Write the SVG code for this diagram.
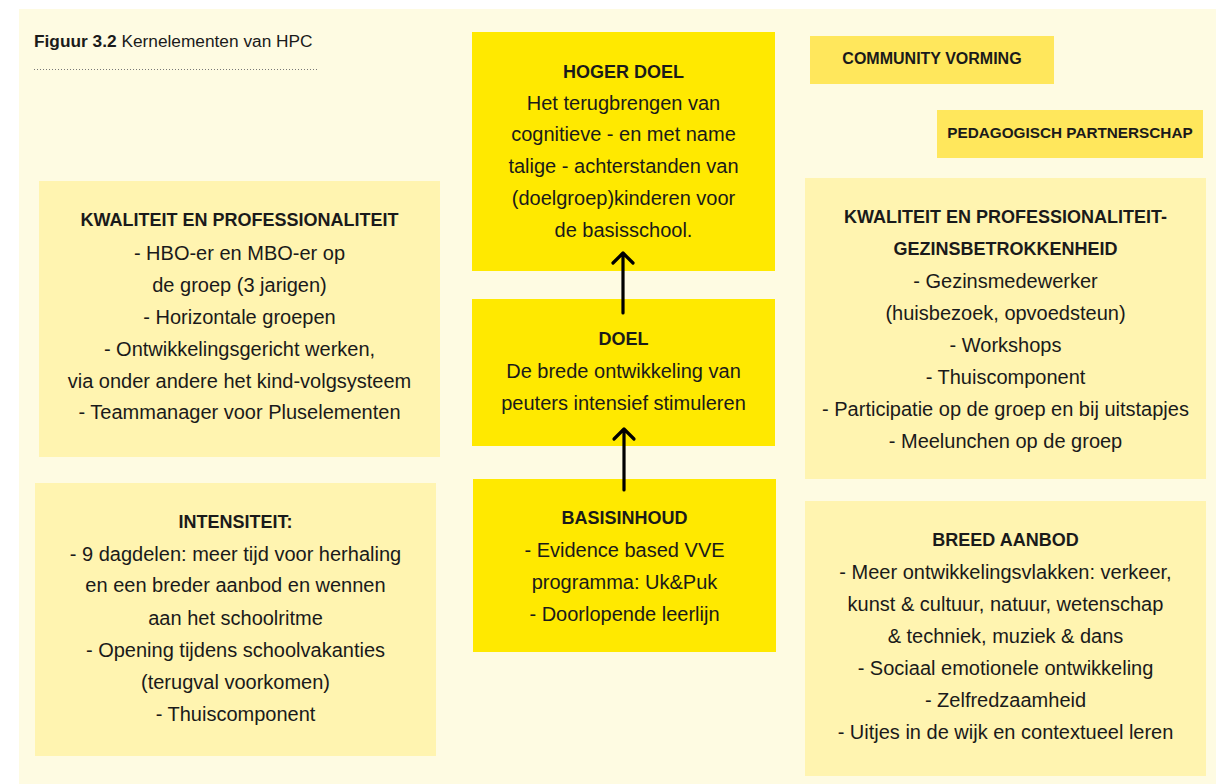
<svg xmlns="http://www.w3.org/2000/svg" width="1216" height="784" viewBox="0 0 1216 784">
<defs>
<style>
.bg{fill:#FEFBE2}
.main{fill:#FFE900}
.light{fill:#FFF4B0}
.tag{fill:#FFE75C}
text{font-family:"Liberation Sans",Arial,sans-serif;fill:#1a1a1a;text-anchor:middle}
.t{font-weight:bold;font-size:18px}
.b{font-size:20px}
.s{font-weight:bold;font-size:16px}
.arrow{stroke:#000;stroke-width:3.2;fill:none;stroke-linecap:round;stroke-linejoin:round}
</style>
</defs>
<rect width="1216" height="784" fill="#ffffff"/>
<rect class="bg" x="19" y="9" width="1197" height="775"/>
<g id="caption">
<text x="34" y="47" style="text-anchor:start;font-size:17.3px"><tspan font-weight="bold">Figuur 3.2</tspan> Kernelementen van HPC</text>
<line x1="34" y1="69.5" x2="317" y2="69.5" stroke="#777" stroke-width="1" stroke-dasharray="1 2"/>
</g>
<g id="hoger-doel">
<rect class="main" x="472" y="32" width="303" height="239"/>
<text class="t" x="623.5" y="78">HOGER DOEL</text>
<text class="b" x="623.5" y="110">Het terugbrengen van</text>
<text class="b" x="623.5" y="141">cognitieve - en met name</text>
<text class="b" x="623.5" y="173">talige - achterstanden van</text>
<text class="b" x="623.5" y="205">(doelgroep)kinderen voor</text>
<text class="b" x="623.5" y="237">de basisschool.</text>
</g>
<g id="doel">
<rect class="main" x="472" y="299" width="303" height="147"/>
<text class="t" x="623.5" y="345">DOEL</text>
<text class="b" x="623.5" y="378">De brede ontwikkeling van</text>
<text class="b" x="623.5" y="410">peuters intensief stimuleren</text>
</g>
<g id="basisinhoud">
<rect class="main" x="473" y="479" width="303" height="173"/>
<text class="t" x="624.5" y="524">BASISINHOUD</text>
<text class="b" x="624.5" y="557">- Evidence based VVE</text>
<text class="b" x="624.5" y="589">programma: Uk&amp;Puk</text>
<text class="b" x="624.5" y="621">- Doorlopende leerlijn</text>
</g>
<g id="community-vorming">
<rect class="tag" x="810" y="36" width="244" height="48"/>
<text class="s" x="932" y="64">COMMUNITY VORMING</text>
</g>
<g id="pedagogisch-partnerschap">
<rect class="tag" x="937" y="110" width="266" height="48"/>
<text class="s" x="1070" y="138" style="font-size:15.3px">PEDAGOGISCH PARTNERSCHAP</text>
</g>
<g id="kwaliteit-links">
<rect class="light" x="39" y="181" width="401" height="276"/>
<text class="t" x="239.5" y="226">KWALITEIT EN PROFESSIONALITEIT</text>
<text class="b" x="239.5" y="260">- HBO-er en MBO-er op</text>
<text class="b" x="239.5" y="292">de groep (3 jarigen)</text>
<text class="b" x="239.5" y="324">- Horizontale groepen</text>
<text class="b" x="239.5" y="356">- Ontwikkelingsgericht werken,</text>
<text class="b" x="239.5" y="388">via onder andere het kind-volgsysteem</text>
<text class="b" x="239.5" y="419">- Teammanager voor Pluselementen</text>
</g>
<g id="intensiteit">
<rect class="light" x="35" y="483" width="401" height="273"/>
<text class="t" x="235.5" y="528">INTENSITEIT:</text>
<text class="b" x="235.5" y="561">- 9 dagdelen: meer tijd voor herhaling</text>
<text class="b" x="235.5" y="592">en een breder aanbod en wennen</text>
<text class="b" x="235.5" y="625">aan het schoolritme</text>
<text class="b" x="235.5" y="657">- Opening tijdens schoolvakanties</text>
<text class="b" x="235.5" y="689">(terugval voorkomen)</text>
<text class="b" x="235.5" y="721">- Thuiscomponent</text>
</g>
<g id="kwaliteit-gezin">
<rect class="light" x="805" y="178" width="401" height="301"/>
<text class="t" x="1005.5" y="223">KWALITEIT EN PROFESSIONALITEIT-</text>
<text class="t" x="1005.5" y="255">GEZINSBETROKKENHEID</text>
<text class="b" x="1005.5" y="288">- Gezinsmedewerker</text>
<text class="b" x="1005.5" y="320">(huisbezoek, opvoedsteun)</text>
<text class="b" x="1005.5" y="352">- Workshops</text>
<text class="b" x="1005.5" y="384">- Thuiscomponent</text>
<text class="b" x="1005.5" y="416">- Participatie op de groep en bij uitstapjes</text>
<text class="b" x="1005.5" y="448">- Meelunchen op de groep</text>
</g>
<g id="breed-aanbod">
<rect class="light" x="805" y="501" width="401" height="275"/>
<text class="t" x="1005.5" y="546">BREED AANBOD</text>
<text class="b" x="1005.5" y="579">- Meer ontwikkelingsvlakken: verkeer,</text>
<text class="b" x="1005.5" y="611">kunst &amp; cultuur, natuur, wetenschap</text>
<text class="b" x="1005.5" y="643">&amp; techniek, muziek &amp; dans</text>
<text class="b" x="1005.5" y="675">- Sociaal emotionele ontwikkeling</text>
<text class="b" x="1005.5" y="707">- Zelfredzaamheid</text>
<text class="b" x="1005.5" y="739">- Uitjes in de wijk en contextueel leren</text>
</g>
<g id="connectors">
<path class="arrow" d="M623 313 V254 M613 263 L623 253 L633 263"/>
<path class="arrow" d="M624 490 V430 M614 439 L624 429 L634 439"/>
</g>
</svg>
